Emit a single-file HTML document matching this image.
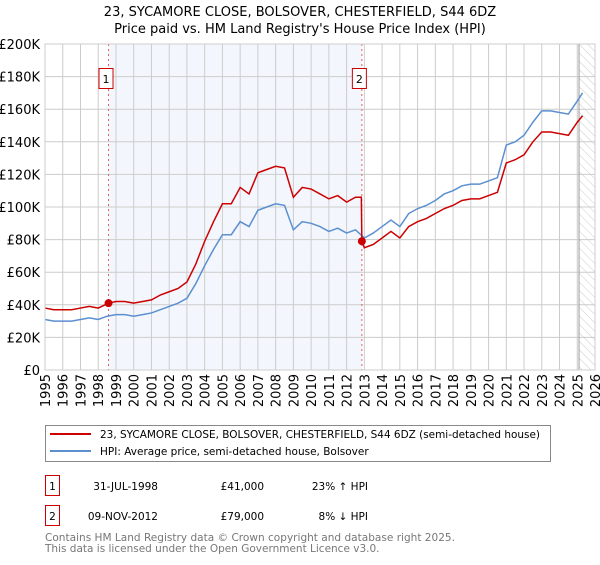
<!DOCTYPE html>
<html><head><meta charset="utf-8"><style>
body{margin:0;background:#fff;font-family:"Liberation Sans","DejaVu Sans",sans-serif;}
svg text{font-family:"DejaVu Sans","Liberation Sans",sans-serif;}
</style></head><body>
<svg id="chart" width="600" height="560" viewBox="0 0 600 560" xmlns="http://www.w3.org/2000/svg">
<defs><pattern id="hatch" width="6" height="6" patternUnits="userSpaceOnUse" patternTransform="rotate(-45)"><line x1="0" y1="0" x2="0" y2="6" stroke="#ccc" stroke-width="1"/></pattern></defs>
<text x="300" y="16" text-anchor="middle" font-size="13" fill="#000">23, SYCAMORE CLOSE, BOLSOVER, CHESTERFIELD, S44 6DZ</text>
<text x="300" y="33" text-anchor="middle" font-size="13" fill="#000">Price paid vs. HM Land Registry's House Price Index (HPI)</text>
<g id="plot"></g>
<g>
<rect x="45.5" y="425.5" width="505" height="36" fill="#fff" stroke="#888"/>
<line x1="50" y1="434" x2="91" y2="434" stroke="#cc0000" stroke-width="2"/>
<text x="100" y="438" font-size="10.5" textLength="440" lengthAdjust="spacingAndGlyphs">23, SYCAMORE CLOSE, BOLSOVER, CHESTERFIELD, S44 6DZ (semi-detached house)</text>
<line x1="50" y1="451" x2="91" y2="451" stroke="#5b8fd0" stroke-width="2"/>
<text x="100" y="455" font-size="10.5">HPI: Average price, semi-detached house, Bolsover</text>
</g>
<g>
<rect x="45.5" y="475.5" width="14" height="20" fill="#fff" stroke="#cc0000"/>
<text x="52.5" y="490" font-size="10.5" text-anchor="middle">1</text>
<text x="158" y="490" font-size="10.5" text-anchor="end">31-JUL-1998</text>
<text x="264" y="490" font-size="10.5" text-anchor="end">£41,000</text>
<text x="368" y="490" font-size="10.5" text-anchor="end">23% ↑ HPI</text>
<rect x="45.5" y="505.5" width="14" height="20" fill="#fff" stroke="#cc0000"/>
<text x="52.5" y="520" font-size="10.5" text-anchor="middle">2</text>
<text x="158" y="520" font-size="10.5" text-anchor="end">09-NOV-2012</text>
<text x="264" y="520" font-size="10.5" text-anchor="end">£79,000</text>
<text x="368" y="520" font-size="10.5" text-anchor="end">8% ↓ HPI</text>
</g>
<text x="45" y="541" font-size="10.5" fill="#777" textLength="410" lengthAdjust="spacingAndGlyphs">Contains HM Land Registry data © Crown copyright and database right 2025.</text>
<text x="45" y="552" font-size="10.5" fill="#777">This data is licensed under the Open Government Licence v3.0.</text>
</svg>
<script>
const hpiYears=[1995,1995.5,1996,1996.5,1997,1997.5,1998,1998.5,1999,1999.5,2000,2000.5,2001,2001.5,2002,2002.5,2003,2003.5,2004,2004.5,2005,2005.5,2006,2006.5,2007,2007.5,2008,2008.5,2009,2009.5,2010,2010.5,2011,2011.5,2012,2012.5,2013,2013.5,2014,2014.5,2015,2015.5,2016,2016.5,2017,2017.5,2018,2018.5,2019,2019.5,2020,2020.5,2021,2021.5,2022,2022.5,2023,2023.5,2024,2024.5,2025,2025.3];
const hpiValues=[31,30,30,30,31,32,31,33,34,34,33,34,35,37,39,41,44,53,64,74,83,83,91,88,98,100,102,101,86,91,90,88,85,87,84,86,81,84,88,92,88,96,99,101,104,108,110,113,114,114,116,118,138,140,144,152,159,159,158,157,165,170];
const redYears=[1995,1995.5,1996,1996.5,1997,1997.5,1998,1998.58,1999,1999.5,2000,2000.5,2001,2001.5,2002,2002.5,2003,2003.5,2004,2004.5,2005,2005.5,2006,2006.5,2007,2007.5,2008,2008.5,2009,2009.5,2010,2010.5,2011,2011.5,2012,2012.5,2012.83,2012.86,2013,2013.5,2014,2014.5,2015,2015.5,2016,2016.5,2017,2017.5,2018,2018.5,2019,2019.5,2020,2020.5,2021,2021.5,2022,2022.5,2023,2023.5,2024,2024.5,2025,2025.3];
const redValues=[38,37,37,37,38,39,38,41,42,42,41,42,43,46,48,50,54,65,79,91,102,102,112,108,121,123,125,124,106,112,111,108,105,107,103,106,106,79,75,77,81,85,81,88,91,93,96,99,101,104,105,105,107,109,127,129,132,140,146,146,145,144,152,156];
const saleYears=[1998.58,2012.86];
const saleValues=[41,79];
const saleLabels=["1","2"];
const yTicks=[0,20,40,60,80,100,120,140,160,180,200];
const yTickLabels=["£0","£20K","£40K","£60K","£80K","£100K","£120K","£140K","£160K","£180K","£200K"];
const xTicks=[1995,1996,1997,1998,1999,2000,2001,2002,2003,2004,2005,2006,2007,2008,2009,2010,2011,2012,2013,2014,2015,2016,2017,2018,2019,2020,2021,2022,2023,2024,2025,2026];

const X0=45,X1=595,Y0=370,Y1=44;
const xs=y=>X0+(y-1995)/(2026-1995)*(X1-X0);
const ys=v=>Y0-v/200*(Y0-Y1);
const NS="http://www.w3.org/2000/svg";
const g=document.getElementById('plot');
function mk(t,a){const e=document.createElementNS(NS,t);for(const k in a)e.setAttribute(k,a[k]);g.appendChild(e);return e;}

const shade=mk('rect',{x:xs(saleYears[0]),y:Y1,width:xs(saleYears[1])-xs(saleYears[0]),height:Y0-Y1,fill:'#eef3fc',opacity:0.7});


const hz=mk('rect',{x:xs(2025.1),y:Y1,width:X1-xs(2025.1),height:Y0-Y1,fill:'url(#hatch)'});



yTicks.forEach((v,i)=>{
  const l=mk('line',{x1:X0,x2:X1,y1:ys(v),y2:ys(v),stroke:'#ccc','stroke-width':1});
  
  
  const t=mk('text',{x:X0-5,y:ys(v)+5,'text-anchor':'end','font-size':13,fill:'#000'});
  
  
  t.textContent=yTickLabels[i];
});
xTicks.forEach(y=>{
  const l=mk('line',{x1:xs(y),x2:xs(y),y1:Y1,y2:Y0,stroke:'#ccc','stroke-width':1});
  
  
  const t=mk('text',{x:0,y:0,'text-anchor':'end','font-size':13,fill:'#000',transform:`translate(${xs(y)+5},${Y0+4}) rotate(-90)`});
  
  
  t.textContent=y;
});
const vl=mk('line',{x1:xs(2025.1),x2:xs(2025.1),y1:Y1,y2:Y0,stroke:'#999','stroke-width':1});



saleYears.forEach((y,i)=>{
  const l=mk('line',{x1:xs(y),x2:xs(y),y1:Y1,y2:Y0,stroke:'#e06060','stroke-width':1,'stroke-dasharray':'2,3'});
  
  
});

const hp=mk('polyline',{points:hpiYears.map((y,i)=>xs(y)+','+ys(hpiValues[i])).join(' '),fill:'none',stroke:'#5b8fd0','stroke-width':1.5});


const rp=mk('polyline',{points:redYears.map((y,i)=>xs(y)+','+ys(redValues[i])).join(' '),fill:'none',stroke:'#cc0000','stroke-width':1.5});



saleYears.forEach((y,i)=>{
  const c=mk('circle',{cx:xs(y),cy:ys(saleValues[i]),r:4,fill:'#cc0000'});
  
  
  const r=mk('rect',{x:xs(y)-9.5,y:68.5,width:14,height:20,fill:'#fff',stroke:'#cc0000'});
  
  
  const t=mk('text',{x:xs(y)-2.5,y:83,'text-anchor':'middle','font-size':11,fill:'#000'});
  
  
  t.textContent=saleLabels[i];
});
const fr=mk('rect',{x:X0,y:Y1,width:X1-X0,height:Y0-Y1,fill:'none',stroke:'#ccc'});


</script>
</body></html>
